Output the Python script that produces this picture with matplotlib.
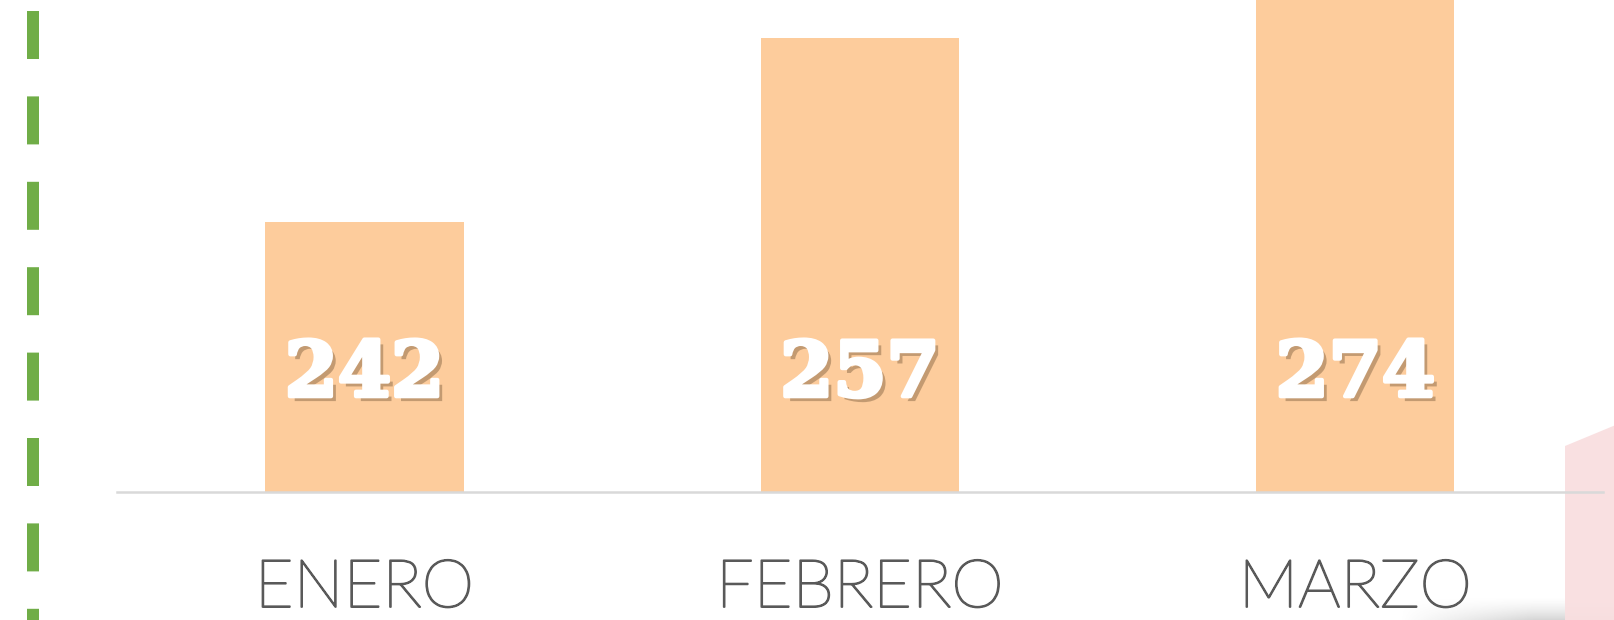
import matplotlib
matplotlib.use("Agg")
import matplotlib.pyplot as plt
import matplotlib.patheffects as pe
import matplotlib.transforms as mtransforms
from matplotlib.lines import Line2D
from matplotlib.patches import Polygon
import numpy as np

# data
months = ["ENERO", "FEBRERO", "MARZO"]
values = [242, 257, 274]

W, H = 1614, 620
fig = plt.figure(figsize=(W / 100, H / 100), dpi=100)
fig.patch.set_facecolor("white")

# soft gray shadow along the bottom edge (drawn first, behind everything)
sh = fig.add_axes([1400 / W, 0, (W - 1400) / W, 24 / H], zorder=0)
gx = np.linspace(0, 1, 200)
gy = np.linspace(0, 1, 24)
rgba = np.zeros((24, 200, 4))
rgba[..., :3] = 0.55
rgba[..., 3] = np.outer((1 - gy) ** 1.5, np.clip(gx * 1.6, 0, 1)) * 0.35
sh.imshow(rgba, aspect="auto", extent=[0, 1, 0, 1], origin="lower",
          interpolation="bilinear")
sh.axis("off")

# plot area: bars sit on a baseline at y=492px, axis does not start at zero
ax = fig.add_axes([116.7 / W, 1 - 492 / H, (1603 - 116.7) / W, 492 / H], zorder=1)
x = np.arange(len(months))
ax.bar(x, values, width=0.40, color="#FDCC9C", zorder=2)
ax.set_xlim(-0.5, 2.5)
ax.set_ylim(220, 260.07)

for side in ["top", "left", "right"]:
    ax.spines[side].set_visible(False)
ax.spines["bottom"].set_color("#d9d9d9")
ax.spines["bottom"].set_linewidth(1.8)
ax.set_xticks([])
ax.set_yticks([])
ax.patch.set_alpha(0)

shadow = [pe.withSimplePatchShadow(offset=(3.5, -3.5), shadow_rgbFace="#8a6a48", alpha=0.5),
          pe.withStroke(linewidth=3, foreground="white")]
for xi, v in zip(x, values):
    ax.text(xi, 227.8, str(v), ha="center", va="baseline", fontsize=55,
            family="DejaVu Serif", weight="bold", color="white",
            path_effects=shadow, zorder=3)

# month labels under the baseline (thin font, thickened a bit)
trans = mtransforms.blended_transform_factory(ax.transData, fig.transFigure)
thicken = [pe.withStroke(linewidth=1.3, foreground="#595959")]
for xi, m in zip(x, months):
    ax.text(xi, 13 / H, m, transform=trans, ha="center", va="baseline",
            fontsize=48, family="Lato", weight="light", color="#595959",
            path_effects=thicken, clip_on=False)

# green dashed line on the left
lw = 12 * 0.72
fig.add_artist(Line2D([33 / W, 33 / W], [1 - 11 / H, 0], color="#70AD47",
                      linewidth=lw, dashes=(48 * 0.72 / lw, 37.4 * 0.72 / lw),
                      dash_capstyle="butt", solid_capstyle="butt"))

# pink shape at the bottom right corner
fig.add_artist(Polygon([(1565 / W, 1 - 446 / H), (1 + 0.01, 1 - 419 / H),
                        (1 + 0.01, 0), (1565 / W, 0)], closed=True,
                       facecolor="#F9DFE0", edgecolor="none", alpha=0.95))

fig.savefig("out.png", dpi=100, facecolor="white")
